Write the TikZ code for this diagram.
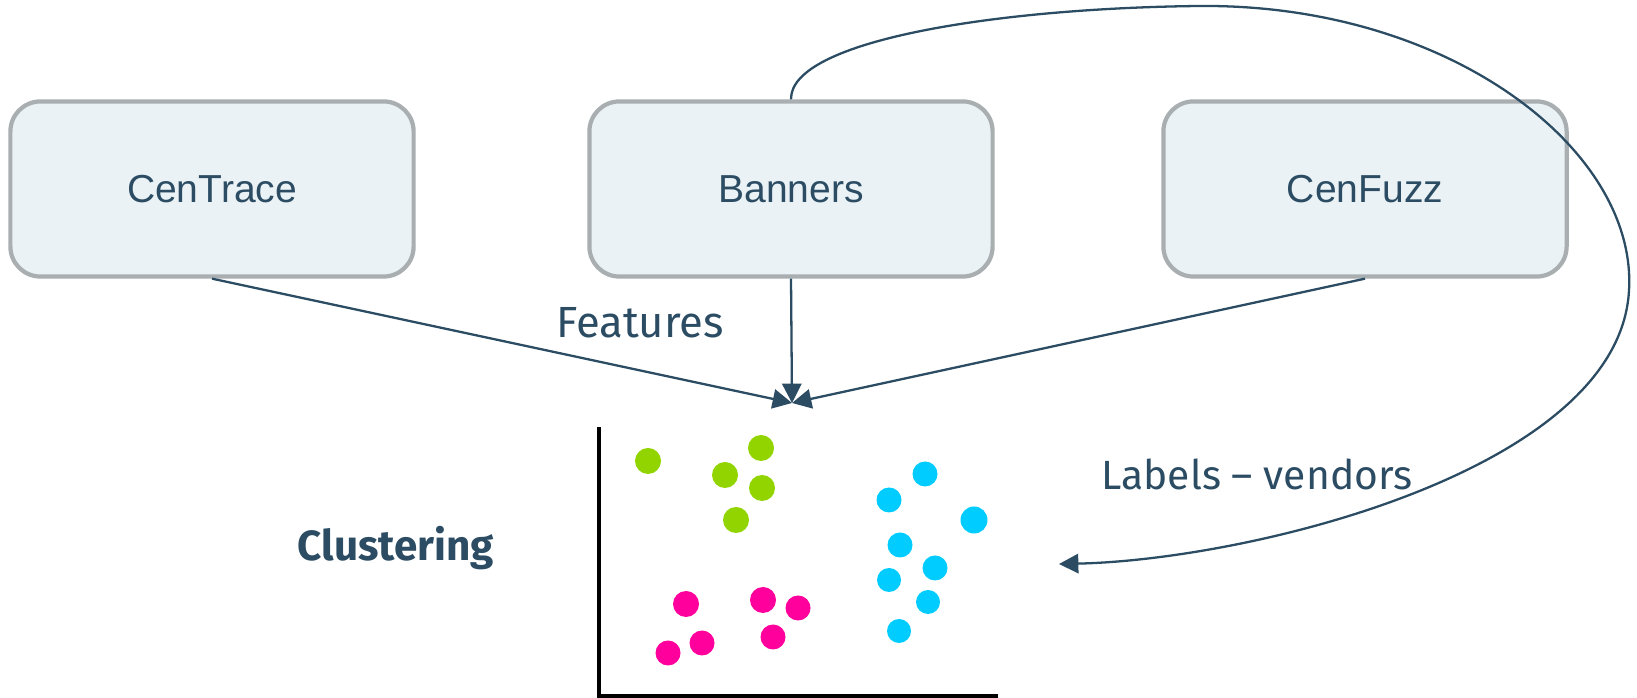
\documentclass[tikz,border=0pt]{standalone}
\usepackage{fontspec}
\setmainfont{Liberation Sans}
\newfontfamily\labelfont{Fira Sans}
\usetikzlibrary{arrows.meta}
\definecolor{ink}{HTML}{2B4C63}
\definecolor{boxline}{HTML}{A9AEB1}
\definecolor{boxfill}{HTML}{EAF2F6}
\definecolor{limedot}{HTML}{92D400}
\definecolor{pinkdot}{HTML}{FF009C}
\definecolor{cyandot}{HTML}{00CCFF}
\tikzstyle{tool} = [rectangle, rounded corners=0.3cm, minimum width=4.03cm, minimum height=1.75cm, text centered, draw=boxline, line width=1.2pt, fill=boxfill, text=ink, font=\fontsize{11.1}{13}\selectfont]
\tikzstyle{caption} = [text=ink, font=\labelfont\fontsize{12.4}{14}\selectfont]
\tikzstyle{edge} = [draw=ink, line width=0.65pt, ->, >={Triangle[length=5.5pt,width=5.5pt]}]
\tikzstyle{axis} = [draw=black, line width=0.9pt]

\begin{document}
\begin{tikzpicture}[x=0.01cm, y=-0.01cm]
\useasboundingbox (0,0) rectangle (1637,698);

\node (0) [tool] at (212,189) {CenTrace};
\node (1) [tool] at (791,189) {Banners};
\node (2) [tool] at (1365,189) {CenFuzz};
\coordinate (meet) at (792,403);
\coordinate (back) at (1059,564);

\node (3) [caption] at (640,323) {Features};
\node (4) [caption, font=\labelfont\fontsize{11.6}{14}\selectfont] at (1257,474) {Labels – vendors};
\node (5) [caption, font=\labelfont\bfseries\fontsize{12}{14}\selectfont] at (396,548) {Clustering};

\draw [edge] (0.south) -- (meet);
\draw [edge] (1.south) -- (meet);
\draw [edge] (2.south) -- (meet);
\draw [edge] (1.north) .. controls (790,40) and (1000,8) .. (1200,6)
  .. controls (1450,4) and (1637,150) .. (1629,290)
  .. controls (1620,470) and (1250,560) .. (back);

% scatter plot
\draw [axis] (599,427) -- (599,696) -- (998,696);
\fill [limedot] (648,461) circle (13);
\fill [limedot] (761,448) circle (13);
\fill [limedot] (725,475) circle (13);
\fill [limedot] (762,488) circle (13);
\fill [limedot] (736,520) circle (13);
\fill [pinkdot] (686,604) circle (13);
\fill [pinkdot] (763,600) circle (13);
\fill [pinkdot] (798,608) circle (12.5);
\fill [pinkdot] (702,643) circle (12.5);
\fill [pinkdot] (773,637) circle (12.5);
\fill [pinkdot] (668,653) circle (12.5);
\fill [cyandot] (925,474) circle (12.5);
\fill [cyandot] (889,500) circle (12.5);
\fill [cyandot] (974,520) circle (13.5);
\fill [cyandot] (900,545) circle (12.5);
\fill [cyandot] (935,568) circle (12.5);
\fill [cyandot] (889,580) circle (12);
\fill [cyandot] (928,602) circle (12);
\fill [cyandot] (899,631) circle (12);

\end{tikzpicture}
\end{document}
